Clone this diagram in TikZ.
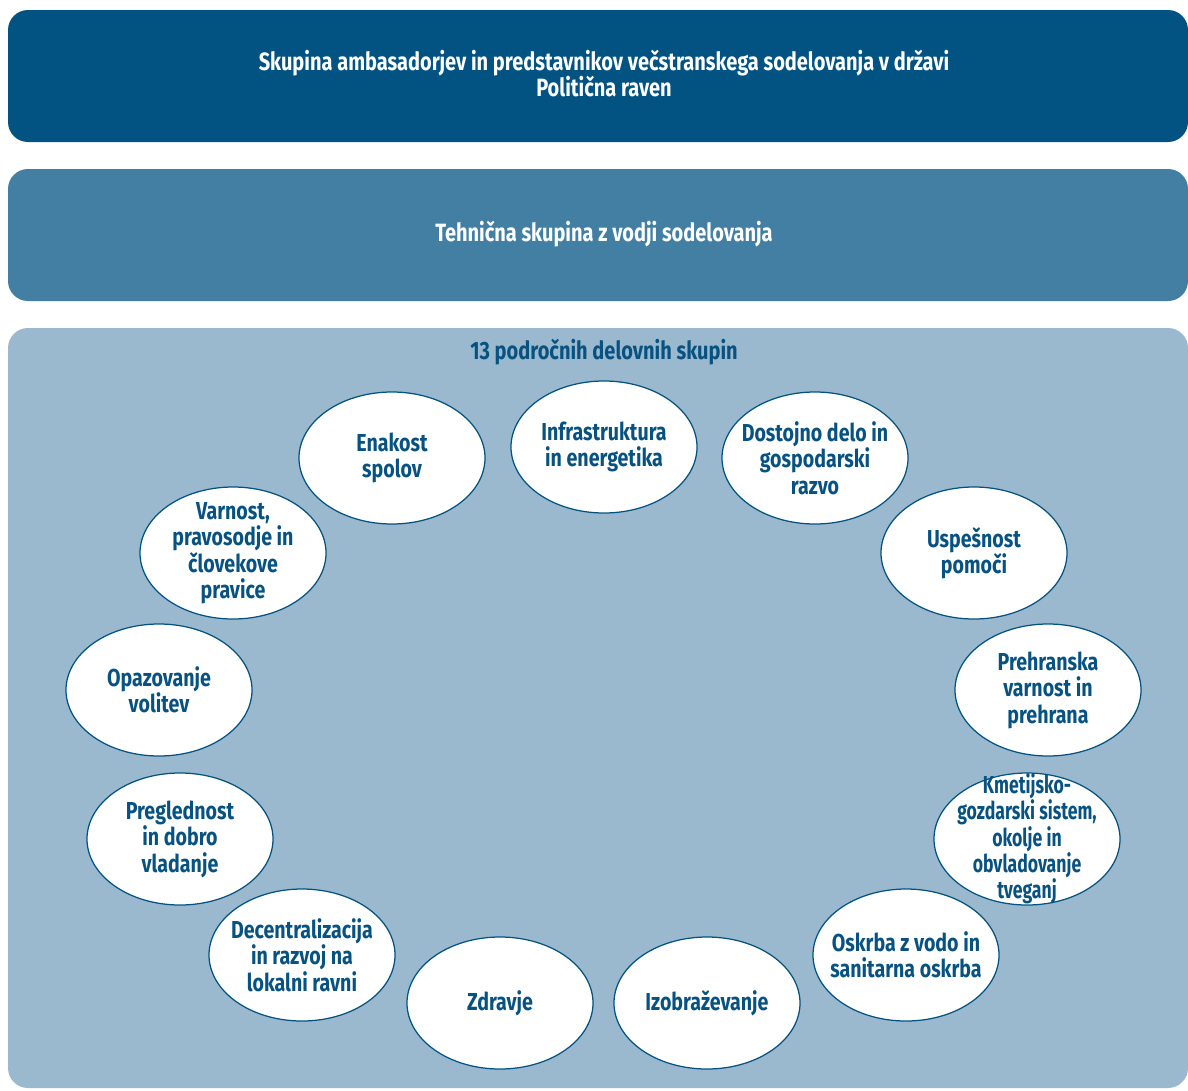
\documentclass[tikz,border=0pt]{standalone}
\usepackage{fontspec}
\usetikzlibrary{shapes.geometric}
\newfontfamily\cond{Fira Sans}[FakeStretch=0.80]
\newfontfamily\condnarrow{Fira Sans}[FakeStretch=0.72]
\definecolor{navy}{RGB}{2,83,130}
\definecolor{steel}{RGB}{66,127,163}
\definecolor{pale}{RGB}{155,185,206}
\definecolor{ink}{RGB}{8,82,130}
\tikzset{
  band/.style={rectangle, rounded corners=20pt, inner sep=0pt, draw=none},
  bandtext/.style={font=\cond\bfseries\fontsize{25}{26}\selectfont, align=center, inner sep=0pt},
  grouptext/.style={align=center, inner sep=0pt, text=ink,
    font=\cond\bfseries\fontsize{24.5}{26.5}\selectfont},
  tighttext/.style={grouptext, font=\condnarrow\bfseries\fontsize{24.5}{24.2}\selectfont},
  group/.style={ellipse, draw=navy, line width=1.25pt, fill=white,
    minimum width=186pt, minimum height=132pt, inner sep=0pt,
    label={[grouptext]center:#1}},
  tightgroup/.style={ellipse, draw=navy, line width=1.25pt, fill=white,
    minimum width=186pt, minimum height=132pt, inner sep=0pt,
    label={[tighttext]center:#1}},
}
\begin{document}
\begin{tikzpicture}[x=1pt,y=-1pt]
\useasboundingbox (0,0) rectangle (1188,1090);
\fill[white] (0,0) rectangle (1188,1090);

% three levels
\node[band, fill=navy, minimum width=1180pt, minimum height=132pt] (political) at (598,76) {};
\node[band, fill=steel, minimum width=1180pt, minimum height=132pt] (technical) at (598,235) {};
\node[band, fill=pale, minimum width=1180pt, minimum height=760pt] (sectoral) at (598,708) {};

\node[bandtext, text=white] (politicaltext) at (604,74) {Skupina ambasadorjev in predstavnikov večstranskega sodelovanja v državi\\Politična raven};
\node[bandtext, text=white] (technicaltext) at (604,234) {Tehnična skupina z vodji sodelovanja};
\node[bandtext, text=ink] (sectoraltext) at (604,352) {13 področnih delovnih skupin};

% thirteen working groups
\node[group={Infrastruktura\\in energetika}] (infra) at (604,447) {};
\node[group={Dostojno delo in\\gospodarski\\razvo}] (work) at (815,458) {};
\node[group={Uspešnost\\pomoči}] (aid) at (974,553) {};
\node[group={Prehranska\\varnost in\\prehrana}] (food) at (1048,690) {};
\node[tightgroup={Kmetijsko-\\gozdarski sistem,\\okolje in\\obvladovanje\\tveganj}] (agri) at (1027,839) {};
\node[group={Oskrba z vodo in\\sanitarna oskrba}] (water) at (906,955) {};
\node[group={Izobraževanje}] (edu) at (707,1003) {};
\node[group={Zdravje}] (health) at (500,1003) {};
\node[group={Decentralizacija\\in razvoj na\\lokalni ravni}] (local) at (302,955) {};
\node[group={Preglednost\\in dobro\\vladanje}] (govern) at (180,839) {};
\node[group={Opazovanje\\volitev}] (elect) at (159,690) {};
\node[group={Varnost,\\pravosodje in\\človekove\\pravice}] (justice) at (233,553) {};
\node[group={Enakost\\spolov}] (gender) at (392,458) {};
\end{tikzpicture}
\end{document}
